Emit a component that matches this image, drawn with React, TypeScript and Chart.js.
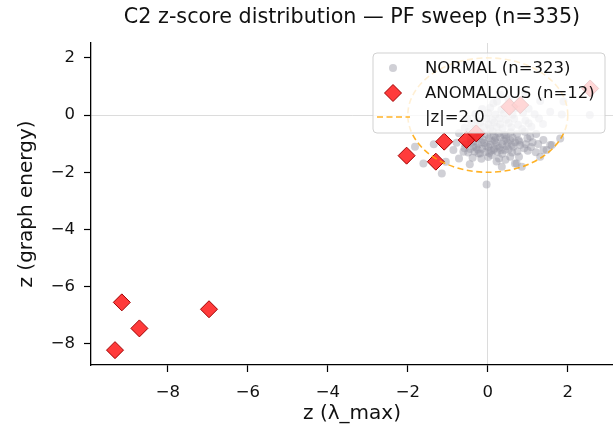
import React, { useEffect, useRef } from 'react';
import { Chart, registerables } from 'chart.js';

Chart.register(...registerables);

const TITLE = 'C2 z-score distribution — PF sweep (n=335)';
const X_LABEL = 'z (λ_max)';
const Y_LABEL = 'z (graph energy)';
const X_TICKS = [-8, -6, -4, -2, 0, 2];
const Y_TICKS = [-8, -6, -4, -2, 0, 2];
const THRESHOLD = 2.0;
const LEGEND_LABELS = ['NORMAL (n=323)', 'ANOMALOUS (n=12)', '|z|=2.0'];

const ANOM_X = [-9.32, -9.15, -8.71, -6.97, -2.03, -1.09, -1.3, -0.53, -0.29, 0.54, 0.81, 2.56];
const ANOM_Y = [-8.22, -6.55, -7.46, -6.79, -1.42, -0.93, -1.63, -0.87, -0.64, 0.29, 0.35, 0.93];

const NORMAL_X = [
  -1.82, -1.61, -1.15, -0.86, -0.03, 0.35, 0.64, 0.85, 1.39, 1.39, 1.6, 2.55, -1.05, -0.61, -0.23, 0.1,
  0.43, 0.56, 0.72, 0.78, 0.81, 1.47, 1.56, 1.31, 1.06, 0.56, 0.14, -0.19, -0.36, 1.56, 0.14, 1.85,
  1.89, 1.81, 0.68, 1.2, -1.35, -0.72, -0.45, 0.22, 1.0, 1.12,
  -0.72, -0.48, -0.33, -0.16, -0.02, 0.12, 0.27, 0.41, 0.57, 0.73, 0.92, 1.21,
  -0.43, -0.28, -0.12, 0.03, 0.17, 0.31, 0.46, 0.62, 0.77, 0.99,
  -0.78, -0.56, -0.41, -0.24, -0.09, 0.06, 0.21, 0.36, 0.49, 0.79, 0.95, 1.26,
  -0.58, -0.44, -0.29, -0.14, 0.01, 0.16, 0.29, 0.47, 0.91, 1.08,
  -0.49, -0.33, -0.06, 0.04, 0.24, 0.36, 0.61, 0.74,
  -0.38, -0.16, 0.01, 0.28, 0.44,
  -0.58, -0.31, -0.11, 0.06, 0.22, 0.37, 0.59, 0.86, 1.09,
  -0.41, -0.19, 0.02, 0.16, 0.31, 0.52, 0.76, 1.02, 1.38,
  -0.51, -0.26, -0.04, 0.11, 0.29, 0.46, 0.66, 0.94, 1.28,
  -0.31, 0.01, 0.19, 0.41, 0.62, 0.88, 1.17,
  -0.14, 0.06, 0.34, 0.71, 1.02,
  0.23, 0.52, 1.31,
  0.31, 0.93,
  -0.2, 0.1, 0.25, 0.4, -0.05, 0.15, 0.52, -0.35, 0.33, 0.08, 0.68, -0.15, 0.45, 0.2, -0.25, 0.6,
];
const NORMAL_Y = [
  -1.11, -1.69, -2.04, -1.22, -2.43, -1.81, -1.11, -1.81, -0.87, -1.22, -1.05, 0.0, -1.63, -1.28, -1.34, -1.4,
  -1.22, -1.46, -1.69, -1.46, -1.05, -1.22, -1.05, -1.46, -0.76, -0.87, -1.22, -1.34, -1.11, 0.12, 0.41, 0.02,
  0.47, -0.82, -1.69, -1.3, -1.02, -1.52, -1.72, -1.62, -1.25, -0.95,
  -0.64, -0.58, -0.66, -0.61, -0.69, -0.57, -0.64, -0.7, -0.6, -0.67, -0.58, -0.66,
  -0.84, -0.79, -0.86, -0.81, -0.88, -0.78, -0.83, -0.79, -0.88, -0.82,
  -0.97, -1.02, -0.96, -1.03, -0.98, -1.04, -0.97, -1.02, -0.96, -0.93, -1.02, -1.01,
  -1.16, -1.19, -1.13, -1.18, -1.12, -1.17, -1.14, -1.09, -1.16, -1.12,
  -1.31, -1.27, -1.29, -1.33, -1.28, -1.35, -1.31, -1.27,
  -1.49, -1.53, -1.47, -1.52, -1.56,
  -0.44, -0.48, -0.42, -0.47, -0.41, -0.46, -0.43, -0.49, -0.41,
  -0.31, -0.27, -0.33, -0.26, -0.32, -0.28, -0.34, -0.29, -0.31,
  -0.14, -0.18, -0.12, -0.17, -0.11, -0.16, -0.13, -0.19, -0.12,
  0.04, 0.07, 0.02, 0.06, 0.01, 0.08, 0.03,
  0.21, 0.26, 0.19, 0.24, 0.22,
  0.47, 0.55, 0.49,
  0.71, 0.76,
  -0.75, -0.92, -1.08, -0.9, -1.08, -0.72, -1.2, -0.92, -1.23, -1.25, -0.95, -0.95, -0.7, -0.8, -1.2, -1.05,
];

const FONT = '"DejaVu Sans", sans-serif';
const fmt = (v: number) => (v < 0 ? '\u2212' + Math.abs(v) : String(v));

const overlayPlugin = {
  id: 'overlay',
  afterDatasetsDraw(chart: any) {
    const { ctx, chartArea, scales } = chart;
    const x = scales.x;
    const y = scales.y;
    const cx = x.getPixelForValue(0);
    const cy = y.getPixelForValue(0);
    const rx = Math.abs(x.getPixelForValue(THRESHOLD) - cx);
    const ry = Math.abs(y.getPixelForValue(THRESHOLD) - cy);
    ctx.save();
    ctx.beginPath();
    ctx.rect(chartArea.left, chartArea.top, chartArea.right - chartArea.left, chartArea.bottom - chartArea.top);
    ctx.clip();
    ctx.beginPath();
    ctx.ellipse(cx, cy, rx, ry, 0, 0, Math.PI * 2);
    ctx.strokeStyle = 'rgba(255,165,0,0.85)';
    ctx.lineWidth = 1.6;
    ctx.setLineDash([6, 3.5]);
    ctx.stroke();
    ctx.restore();
  },
  afterDraw(chart: any) {
    const { ctx, chartArea } = chart;
    const midX = (chartArea.left + chartArea.right) / 2;
    ctx.save();
    ctx.fillStyle = '#111';
    ctx.textAlign = 'center';
    ctx.textBaseline = 'middle';
    ctx.font = `20.7px ${FONT}`;
    ctx.fillText(TITLE, midX, 18);
    ctx.font = `20px ${FONT}`;
    ctx.fillText(X_LABEL, midX, 414);
    ctx.save();
    ctx.translate(27, (chartArea.top + chartArea.bottom) / 2);
    ctx.rotate(-Math.PI / 2);
    ctx.fillText(Y_LABEL, 0, 0);
    ctx.restore();

    // legend
    const bx = chartArea.right - 240;
    const by = chartArea.top + 10;
    const bw = 232;
    const bh = 80;
    const r = 4;
    ctx.beginPath();
    ctx.moveTo(bx + r, by);
    ctx.arcTo(bx + bw, by, bx + bw, by + bh, r);
    ctx.arcTo(bx + bw, by + bh, bx, by + bh, r);
    ctx.arcTo(bx, by + bh, bx, by, r);
    ctx.arcTo(bx, by, bx + bw, by, r);
    ctx.closePath();
    ctx.fillStyle = 'rgba(255,255,255,0.8)';
    ctx.fill();
    ctx.strokeStyle = 'rgba(204,204,204,0.9)';
    ctx.lineWidth = 1;
    ctx.stroke();

    const hx = bx + 20;
    const rows = [by + 15, by + 40, by + 64];
    ctx.beginPath();
    ctx.arc(hx, rows[0], 4, 0, Math.PI * 2);
    ctx.fillStyle = 'rgba(150,150,165,0.45)';
    ctx.fill();
    const d = 8.5;
    ctx.beginPath();
    ctx.moveTo(hx - d, rows[1]);
    ctx.lineTo(hx, rows[1] - d);
    ctx.lineTo(hx + d, rows[1]);
    ctx.lineTo(hx, rows[1] + d);
    ctx.closePath();
    ctx.fillStyle = 'rgba(255,25,25,0.85)';
    ctx.fill();
    ctx.strokeStyle = '#a00000';
    ctx.lineWidth = 1;
    ctx.stroke();
    ctx.beginPath();
    ctx.moveTo(hx - 16, rows[2]);
    ctx.lineTo(hx + 17, rows[2]);
    ctx.strokeStyle = 'rgba(255,165,0,0.85)';
    ctx.lineWidth = 1.6;
    ctx.setLineDash([6, 3.5]);
    ctx.stroke();
    ctx.setLineDash([]);

    ctx.fillStyle = '#111';
    ctx.textAlign = 'left';
    ctx.font = `16.5px ${FONT}`;
    LEGEND_LABELS.forEach((t, i) => ctx.fillText(t, bx + 52, rows[i] + 1));
    ctx.restore();
  },
};

export default function App() {
  const ref = useRef<HTMLCanvasElement>(null);
  useEffect(() => {
    const canvas = ref.current;
    if (!canvas) return;
    const normal = NORMAL_X.map((x, i) => ({ x, y: NORMAL_Y[i] }));
    const anom = ANOM_X.map((x, i) => ({ x, y: ANOM_Y[i] }));
    const gridColor = (c: any) => (c.tick && c.tick.value === 0 ? '#dcdcdc' : 'rgba(0,0,0,0)');
    const chart = new Chart(canvas, {
      type: 'scatter',
      data: {
        datasets: [
          {
            label: LEGEND_LABELS[0],
            data: normal,
            pointStyle: 'circle',
            pointRadius: 4,
            pointBackgroundColor: 'rgba(150,150,165,0.45)',
            pointBorderWidth: 0,
            order: 2,
          },
          {
            label: LEGEND_LABELS[1],
            data: anom,
            pointStyle: 'rectRot',
            pointRadius: 8.5,
            pointBackgroundColor: 'rgba(255,25,25,0.85)',
            pointBorderColor: '#a00000',
            pointBorderWidth: 1,
            order: 1,
          },
        ],
      },
      options: {
        animation: false,
        responsive: false,
        devicePixelRatio: 1,
        layout: { autoPadding: false, padding: { left: 0, right: 0, top: 43, bottom: 0 } },
        plugins: { legend: { display: false }, title: { display: false }, tooltip: { enabled: false } },
        scales: {
          x: {
            type: 'linear',
            min: -9.92,
            max: 3.13,
            afterBuildTicks: (s: any) => {
              s.ticks = X_TICKS.map((v) => ({ value: v }));
            },
            afterFit: (s: any) => {
              s.height = 65;
            },
            grid: { color: gridColor, tickColor: '#000', tickLength: 7, lineWidth: 1, tickWidth: 1.2 },
            border: { display: true, color: '#000', width: 1.3 },
            ticks: {
              font: { family: FONT, size: 16.5 },
              color: '#111',
              padding: 11,
              maxRotation: 0,
              autoSkip: false,
              callback: (v: any) => fmt(Number(v)),
            },
          },
          y: {
            type: 'linear',
            min: -8.74,
            max: 2.52,
            afterBuildTicks: (s: any) => {
              s.ticks = Y_TICKS.map((v) => ({ value: v }));
            },
            afterFit: (s: any) => {
              s.width = 91;
            },
            grid: { color: gridColor, tickColor: '#000', tickLength: 7, lineWidth: 1, tickWidth: 1.2 },
            border: { display: true, color: '#000', width: 1.3 },
            ticks: {
              font: { family: FONT, size: 16.5 },
              color: '#111',
              padding: 9,
              autoSkip: false,
              callback: (v: any) => fmt(Number(v)),
            },
          },
        },
      },
      plugins: [overlayPlugin],
    } as any);
    return () => chart.destroy();
  }, []);
  return (
    <div style={{ position: 'fixed', left: 0, top: 0, width: 613, height: 430, background: '#fff' }}>
      <canvas ref={ref} width={613} height={430} style={{ display: 'block' }} />
    </div>
  );
}
